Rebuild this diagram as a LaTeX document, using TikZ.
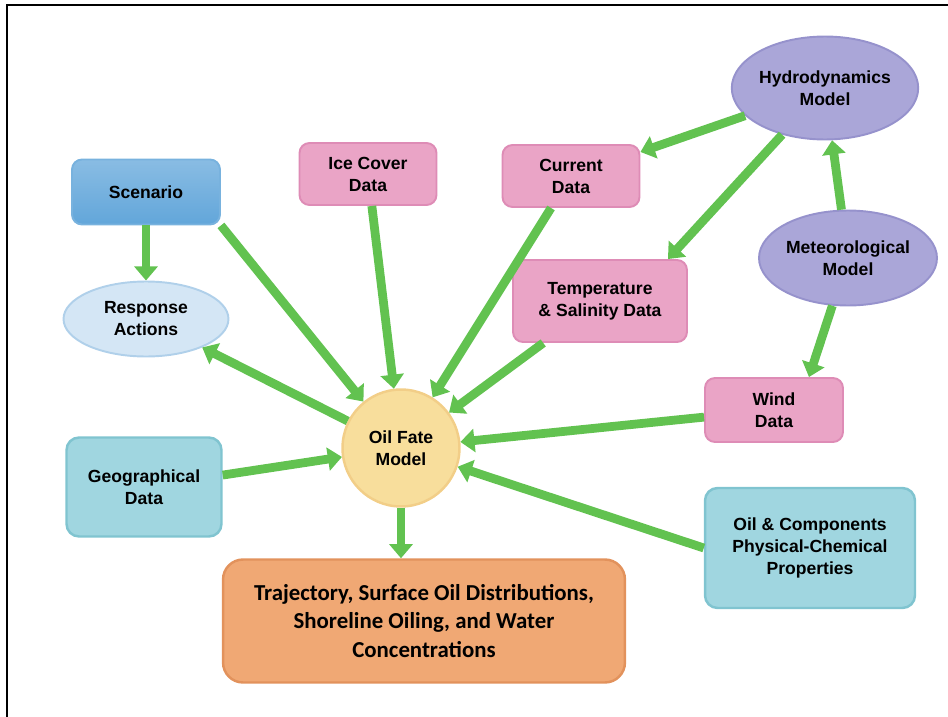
\documentclass[tikz,border=0pt]{standalone}
\usepackage{fontspec}
\setmainfont{Liberation Sans}
\newfontfamily\calfont{Carlito}
\usetikzlibrary{arrows.meta,shapes.geometric}

\definecolor{bluefill}{RGB}{98,166,218}
\definecolor{blueedge}{RGB}{120,178,222}
\definecolor{lightbluefill}{RGB}{212,230,245}
\definecolor{lightblueedge}{RGB}{176,208,234}
\definecolor{pinkfill}{RGB}{234,164,198}
\definecolor{pinkedge}{RGB}{222,140,182}
\definecolor{purplefill}{RGB}{170,166,216}
\definecolor{purpleedge}{RGB}{150,146,204}
\definecolor{tealfill}{RGB}{160,214,224}
\definecolor{tealedge}{RGB}{128,196,208}
\definecolor{fatefill}{RGB}{248,222,156}
\definecolor{fateedge}{RGB}{242,206,136}
\definecolor{outfill}{RGB}{240,168,116}
\definecolor{outedge}{RGB}{226,146,92}
\definecolor{arrowgreen}{RGB}{98,194,80}

\begin{document}
\begin{tikzpicture}[x=0.02cm,y=-0.02cm]

% definitions
\tikzstyle{scenbox} = [rectangle, rounded corners=0.2cm, text centered, align=center, draw=blueedge, line width=1.1pt, top color=bluefill!75!white, bottom color=bluefill, font=\bfseries\fontsize{10}{12.5}\selectfont]

\tikzstyle{respoval} = [ellipse, inner sep=0pt, text centered, align=center, draw=lightblueedge, line width=1.1pt, fill=lightbluefill, font=\bfseries\fontsize{10}{12.5}\selectfont]

\tikzstyle{databox} = [rectangle, rounded corners=0.2cm, text centered, align=center, draw=pinkedge, line width=1.1pt, fill=pinkfill, font=\bfseries\fontsize{10}{12.5}\selectfont]

\tikzstyle{modeloval} = [ellipse, inner sep=0pt, text centered, align=center, draw=purpleedge, line width=1.1pt, fill=purplefill, font=\bfseries\fontsize{10}{12.5}\selectfont]

\tikzstyle{inputbox} = [rectangle, rounded corners=0.25cm, text centered, align=center, draw=tealedge, line width=1.4pt, fill=tealfill, font=\bfseries\fontsize{10}{12.5}\selectfont]

\tikzstyle{fatecircle} = [circle, text centered, align=center, draw=fateedge, line width=1.4pt, fill=fatefill, font=\bfseries\fontsize{10}{12.5}\selectfont]

\tikzstyle{outputbox} = [rectangle, rounded corners=0.4cm, text centered, align=center, draw=outedge, line width=1.4pt, fill=outfill, font=\calfont\bfseries\fontsize{13}{16}\selectfont]

\tikzstyle{arrow} = [-{Triangle[length=8pt,width=13pt]}, line width=5pt, draw=arrowgreen]

\useasboundingbox (0,0) rectangle (948,717);
\draw [line width=1.7pt] (7,717) -- (7,5) -- (948,5);

% the graph
\node (fate) [fatecircle, minimum size=2.34cm] at (401,448) {Oil Fate\\Model};

\node (scen) [scenbox, minimum width=2.96cm, minimum height=1.3cm] at (146,192) {Scenario};

\node (resp) [respoval, minimum width=3.3cm, minimum height=1.5cm] at (146,319) {Response\\Actions};

\node (ice) [databox, minimum width=2.74cm, minimum height=1.24cm] at (368,174) {Ice Cover\\Data};

\node (curr) [databox, minimum width=2.74cm, minimum height=1.24cm] at (571,176) {Current\\Data};

\node (temp) [databox, minimum width=3.48cm, minimum height=1.64cm] at (600,301) {Temperature\\\& Salinity Data};

\node (wind) [databox, minimum width=2.76cm, minimum height=1.28cm] at (774,410) {Wind\\Data};

\node (hydro) [modeloval, minimum width=3.7cm, minimum height=2.06cm] at (825,88) {Hydrodynamics\\Model};

\node (met) [modeloval, minimum width=3.56cm, minimum height=1.9cm] at (848,258) {Meteorological\\Model};

\node (geo) [inputbox, minimum width=3.1cm, minimum height=1.98cm] at (144,487) {Geographical\\Data};

\node (comp) [inputbox, minimum width=4.2cm, minimum height=2.4cm] at (810,548) {Oil \& Components\\Physical-Chemical\\Properties};

\node (out) [outputbox, minimum width=8.04cm, minimum height=2.46cm] at (424,621) {Trajectory, Surface Oil Distributions,\\Shoreline Oiling, and Water\\Concentrations};


\draw [arrow] (scen) -- (resp);
\draw [arrow] (scen.south east) -- (fate);
\draw [arrow] (ice) -- (fate);
\draw [arrow] (curr) -- (fate);
\draw [arrow] (temp) -- (fate);
\draw [arrow] (wind) -- (fate);
\draw [arrow] (comp.west) -- (fate);
\draw [arrow] (geo) -- (fate);
\draw [arrow] (fate) -- (resp);
\draw [arrow] (fate.south) -- (fate.south |- out.north);
\draw [arrow] (hydro) -- (curr);
\draw [arrow] (hydro) -- ([xshift=-0.4cm]temp.north east);
\draw [arrow] (met) -- (hydro);
\draw [arrow] (met) -- ([xshift=-0.7cm]wind.north east);

\end{tikzpicture}
\end{document}
